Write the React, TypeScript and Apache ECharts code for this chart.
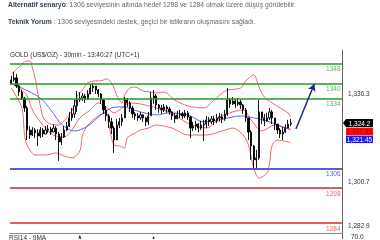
import React, { useEffect, useRef } from "react";
import * as echarts from "echarts";

// ---- data ----
const categoryCount = 126;
const firstOpen = 1340.0;
const closes = [
  1341.6, 1342.4, 1339.1, 1336.7, 1334.3, 1330.3, 1321.4, 1319.4, 1321.4, 1320.2,
  1319.0, 1321.4, 1319.8, 1321.4, 1321.8, 1320.6, 1322.2, 1319.8, 1316.6, 1318.6,
  1321.4, 1323.0, 1326.3, 1327.9, 1331.1, 1333.5, 1334.3, 1335.1, 1333.9, 1335.9,
  1338.3, 1339.1, 1337.5, 1335.9, 1333.5, 1329.5, 1327.1, 1324.7, 1322.2, 1317.4,
  1323.4, 1324.7, 1326.3, 1333.5, 1332.3, 1330.3, 1327.9, 1327.1, 1326.3, 1327.5,
  1326.3, 1324.7, 1327.1, 1334.3, 1335.1, 1331.5, 1330.3, 1329.5, 1330.7, 1329.9,
  1328.7, 1327.1, 1325.9, 1327.5, 1327.9, 1327.1, 1328.3, 1326.7, 1322.2, 1323.0,
  1323.8, 1322.2, 1323.4, 1323.8, 1325.5, 1324.7, 1325.9, 1325.1, 1326.3, 1326.7,
  1325.9, 1327.9, 1333.5, 1331.9, 1333.1, 1331.9, 1332.7, 1331.5, 1329.5, 1326.3,
  1320.6, 1315.0, 1309.4, 1310.2, 1328.7, 1326.3, 1325.1, 1326.3, 1328.7, 1326.3,
  1323.8, 1321.4, 1319.8, 1320.6, 1322.2, 1323.8, 1324.2,
];
const highs = [
  1343.2, 1344.8, 1344.0, 1339.5, 1337.5, 1334.7, 1331.1, 1323.0, 1322.6, 1322.2,
  1321.8, 1322.6, 1322.2, 1323.0, 1323.4, 1322.6, 1323.8, 1323.0, 1320.6, 1320.2,
  1323.0, 1324.7, 1328.7, 1330.3, 1333.5, 1337.1, 1336.7, 1336.3, 1335.9, 1337.5,
  1339.9, 1340.4, 1339.1, 1337.9, 1336.3, 1333.5, 1331.1, 1327.9, 1326.3, 1323.0,
  1325.9, 1326.3, 1327.9, 1334.7, 1334.3, 1333.1, 1331.1, 1328.7, 1328.3, 1328.7,
  1327.9, 1326.7, 1328.7, 1336.7, 1337.5, 1335.9, 1331.9, 1331.5, 1331.9, 1331.5,
  1330.7, 1329.1, 1328.3, 1329.1, 1329.5, 1328.7, 1329.5, 1329.1, 1327.1, 1324.7,
  1325.1, 1324.2, 1325.1, 1325.5, 1327.1, 1326.7, 1327.1, 1327.1, 1327.9, 1328.3,
  1327.9, 1329.5, 1338.3, 1334.3, 1334.7, 1333.9, 1334.3, 1333.5, 1331.9, 1330.3,
  1326.3, 1321.4, 1315.4, 1313.4, 1333.5, 1328.7, 1327.9, 1328.3, 1330.3, 1329.5,
  1326.3, 1323.8, 1322.2, 1322.6, 1323.8, 1325.5, 1325.9,
];
const lows = [
  1339.9, 1340.8, 1338.3, 1335.1, 1333.5, 1328.7, 1317.4, 1317.8, 1319.0, 1318.2,
  1315.0, 1318.2, 1318.6, 1319.8, 1320.2, 1319.4, 1320.6, 1317.4, 1309.0, 1315.4,
  1318.2, 1321.0, 1322.6, 1325.1, 1326.3, 1328.7, 1332.7, 1333.1, 1332.3, 1333.5,
  1335.9, 1336.7, 1335.9, 1334.7, 1331.9, 1327.9, 1325.1, 1322.2, 1319.8, 1312.2,
  1317.4, 1322.2, 1323.0, 1326.3, 1330.7, 1328.7, 1326.3, 1325.5, 1325.1, 1325.5,
  1324.7, 1323.0, 1323.4, 1327.1, 1331.9, 1329.5, 1328.3, 1327.9, 1328.7, 1328.3,
  1327.5, 1325.5, 1324.2, 1325.9, 1326.3, 1325.9, 1326.3, 1325.5, 1318.2, 1321.0,
  1321.4, 1320.6, 1321.4, 1317.0, 1322.2, 1323.0, 1323.8, 1323.4, 1324.2, 1324.7,
  1324.2, 1325.1, 1327.1, 1330.3, 1331.5, 1330.3, 1331.1, 1329.9, 1327.9, 1324.7,
  1317.4, 1309.4, 1306.1, 1305.3, 1309.4, 1323.8, 1323.0, 1324.7, 1325.5, 1323.8,
  1321.4, 1319.8, 1318.2, 1317.4, 1320.2, 1322.2, 1323.0,
];
const bandUpper = [
  [0, 1344.0], [3, 1346.8], [5, 1348.8], [7, 1349.2], [8, 1346.4], [9, 1342.4],
  [10, 1336.7], [11, 1331.1], [12, 1326.7], [13, 1325.1], [15, 1323.8], [18, 1323.4],
  [20, 1325.1], [23, 1329.1], [25, 1335.1], [27, 1337.5], [29, 1340.4], [32, 1341.2],
  [34, 1341.2], [36, 1342.0], [38, 1340.4], [40, 1335.5], [42, 1332.3], [43, 1335.5],
  [45, 1338.3], [47, 1338.7], [50, 1337.1], [53, 1336.7], [55, 1336.3], [58, 1336.7],
  [62, 1333.5], [67, 1331.1], [73, 1330.3], [77, 1333.5], [80, 1336.3], [82, 1337.5],
  [87, 1338.3], [89, 1341.2], [92, 1343.6], [94, 1338.7], [96, 1334.7], [99, 1332.3],
  [102, 1330.3], [105, 1328.3], [106, 1326.7],
];
const bandMiddle = [
  [0, 1339.9], [3, 1338.3], [6, 1335.1], [8, 1329.5], [12, 1323.4], [16, 1319.4],
  [20, 1318.6], [23, 1321.4], [26, 1326.3], [30, 1329.5], [33, 1332.3], [36, 1330.7],
  [39, 1328.3], [41, 1329.5], [45, 1332.3], [49, 1331.9], [55, 1330.3], [60, 1328.7],
  [67, 1324.2], [74, 1322.2], [80, 1327.1], [88, 1329.5], [91, 1325.5], [95, 1321.0],
  [100, 1323.4], [105, 1322.2], [106, 1321.88],
];
const bandLower = [
  [0, 1338.3], [4, 1330.3], [5, 1319.4], [6, 1315.4], [9, 1311.4], [13, 1311.4],
  [17, 1312.2], [20, 1311.0], [23, 1310.2], [26, 1313.0], [27, 1319.4], [29, 1323.4],
  [33, 1327.1], [36, 1328.3], [37, 1323.4], [39, 1315.4], [41, 1315.0], [43, 1314.2],
  [44, 1318.2], [47, 1320.2], [49, 1321.4], [52, 1322.2], [55, 1323.4], [61, 1322.2],
  [67, 1319.4], [74, 1319.4], [80, 1321.0], [84, 1322.2], [88, 1319.4], [90, 1315.4],
  [92, 1306.1], [94, 1302.1], [97, 1304.1], [98, 1308.1], [99, 1315.4], [101, 1317.4],
  [105, 1316.6], [106, 1316.2],
];
const movingAverage = [
  [1, 1339.5], [4, 1338.3], [11, 1334.3], [15, 1329.5], [19, 1323.8], [24, 1321.0],
  [29, 1323.0], [34, 1327.5], [38, 1330.3], [42, 1330.7], [49, 1328.7], [55, 1327.5],
  [60, 1328.3], [67, 1327.5], [73, 1324.7], [79, 1325.5], [87, 1327.1], [92, 1326.3],
  [97, 1325.1], [102, 1323.0], [106, 1321.45],
];
const rsiPoints = [
  [20, 50], [25, 56], [26, 71.3], [27, 56], [35, 48], [48, 52], [53, 55], [54, 69.6], [55, 55], [64, 50],
];
const greenLevels = [1348, 1340, 1334];
const blueLevels = [1306];
const redLevels = [1298, 1284];
const priceTicks = [1282.9, 1300.7, 1336.3];
const rsiTicks = [70];
const arrowFrom = [108, 1321.8];
const arrowTo = [115, 1339.9];
const lastPrice = 1324.2;
const bandTagValue = 1321.88;
const maTagValue = 1321.45;

const FONT = "'Liberation Sans', Arial, sans-serif";
const fmt = (v: number, d: number) =>
  v.toLocaleString("en-US", { minimumFractionDigits: d, maximumFractionDigits: d });

export default function App() {
  const ref = useRef<HTMLDivElement>(null);
  useEffect(() => {
    if (!ref.current) return;
    const chart = echarts.init(ref.current, null, { renderer: "svg" });
    const categories = Array.from({ length: categoryCount }, (_, i) => String(i));
    const candles = closes.map((c, i) => {
      const o = i === 0 ? firstOpen : closes[i - 1];
      return [o, c, Math.min(lows[i], o, c), Math.max(highs[i], o, c)];
    });
    const levelItem = (v: number, line: string, text: string, w: number) => ({
      yAxis: v,
      lineStyle: { color: line, width: w, type: "solid" },
      label: { color: text },
    });
    const bandLine = (name: string, data: number[][], color: string) => ({
      type: "line",
      name,
      data,
      smooth: 0.3,
      showSymbol: false,
      symbol: "none",
      silent: true,
      lineStyle: { color, width: 0.8 },
      z: 3,
    });
    const topText = {
      fontSize: 6.8, fontWeight: "normal", color: "#666", fontFamily: FONT,
      rich: { b: { fontSize: 6.8, fontWeight: "bold", color: "#354052", fontFamily: FONT } },
    };
    const option: any = {
      animation: false,
      title: [
        {
          text: "{b|Alternatif senaryo}: 1306 seviyesinin altında hedef 1298 ve 1284 olmak üzere düşüş görülebilir.",
          left: 8, top: 1, padding: 0, textStyle: topText,
        },
        {
          text: "{b|Teknik Yorum} : 1306 seviyesindeki destek, geçici bir istikrarın oluşmasını sağladı.",
          left: 8, top: 18, padding: 0, textStyle: topText,
        },
        {
          text: "GOLD (US$/OZ) - 30min - 13:40:27 (UTC+1)",
          left: 10, top: 51, padding: 0,
          textStyle: { fontSize: 6.5, fontWeight: "normal", color: "#333", fontFamily: FONT },
        },
        {
          text: "RSI14 - 9MA",
          left: 9, top: 234, padding: 0,
          textStyle: { fontSize: 6.5, fontWeight: "normal", color: "#333", fontFamily: FONT },
        },
      ],
      grid: [
        { left: 10, right: 38, top: 50, bottom: 7 },
        { left: 10, right: 38, top: 233, bottom: 0 },
      ],
      xAxis: [
        {
          type: "category", gridIndex: 0, data: categories, boundaryGap: true,
          axisLine: { show: true, lineStyle: { color: "#888", width: 1 } },
          axisTick: { show: false }, axisLabel: { show: false }, splitLine: { show: false },
        },
        {
          type: "category", gridIndex: 1, data: categories, boundaryGap: true, show: false,
        },
      ],
      yAxis: [
        {
          type: "value", gridIndex: 0, position: "right", min: 1280, max: 1353.6, scale: true,
          axisLine: { show: true, lineStyle: { color: "#666", width: 1 } },
          axisTick: { show: false }, splitLine: { show: false },
          axisLabel: {
            customValues: priceTicks, margin: 6, fontSize: 6.5, color: "#333", fontFamily: FONT,
            formatter: (v: number) => fmt(v, 1),
          },
        },
        {
          type: "value", gridIndex: 1, position: "right", min: 67, max: 75,
          axisLine: { show: true, lineStyle: { color: "#666", width: 1 } },
          axisTick: { show: false }, splitLine: { show: false },
          axisLabel: {
            customValues: rsiTicks, margin: 9, fontSize: 6.5, color: "#333", fontFamily: FONT,
            formatter: (v: number) => fmt(v, 1),
          },
        },
      ],
      series: [
        {
          type: "candlestick",
          data: candles,
          barWidth: 1.7,
          silent: true,
          z: 4,
          itemStyle: {
            color: "#ffffff", color0: "#000000", borderColor: "#000000", borderColor0: "#000000",
            borderWidth: 0.9,
          },
          markLine: {
            silent: true,
            symbol: "none",
            animation: false,
            label: {
              show: true, position: "insideEndBottom", distance: 1.5, fontSize: 6.5,
              fontFamily: FONT, formatter: "{c}", padding: 0,
            },
            data: [
              ...greenLevels.map((v) => levelItem(v, "#239a23", "#5fb05f", 1.5)),
              ...blueLevels.map((v) => levelItem(v, "#5a5ad6", "#5a6ad2", 2)),
              ...redLevels.map((v) => levelItem(v, "#d42a2a", "#e06a6a", 1.5)),
            ],
          },
        },
        bandLine("upper", bandUpper, "#e04848"),
        bandLine("middle", bandMiddle, "#e04848"),
        bandLine("lower", bandLower, "#e04848"),
        {
          ...bandLine("ma", movingAverage, "#3344cc"),
          markLine: {
            silent: true,
            animation: false,
            symbol: ["none", "arrow"],
            symbolSize: [6, 7],
            label: { show: false },
            lineStyle: { color: "#1c2a80", width: 1.5, type: "solid", curveness: 0.12 },
            data: [[{ coord: arrowFrom }, { coord: arrowTo }]],
          },
        },
        {
          type: "line", xAxisIndex: 1, yAxisIndex: 1, data: rsiPoints, showSymbol: false,
          symbol: "none", silent: true, clip: true, lineStyle: { color: "#000", width: 0.8 },
        },
      ],
    };
    chart.setOption(option);
    const y = chart.convertToPixel({ yAxisIndex: 0 }, lastPrice) as number;
    const tx = 346, tw = 27, th = 8;
    const tagText = (text: string, cy: number, fill: string) => ({
      type: "text", x: tx + tw / 2, y: cy, z: 101,
      style: { text, fill, fontSize: 6.5, fontFamily: FONT, align: "center", verticalAlign: "middle" },
    });
    chart.setOption({
      graphic: [
        {
          type: "polygon", z: 100,
          shape: { points: [[343, y], [tx, y - th / 2], [tx + tw, y - th / 2], [tx + tw, y + th / 2], [tx, y + th / 2]] },
          style: { fill: "#000" },
        },
        tagText(fmt(lastPrice, 1), y, "#fff"),
        { type: "rect", z: 100, shape: { x: tx, y: y + 4.5, width: tw, height: 7.5 }, style: { fill: "#ee1111" } },
        tagText(fmt(bandTagValue, 2), y + 8.25, "#b80000"),
        { type: "rect", z: 100, shape: { x: tx, y: y + 12.5, width: tw, height: 7.5 }, style: { fill: "#1a1aee" } },
        tagText(fmt(maTagValue, 2), y + 16.25, "#fff"),
      ],
    });
    return () => chart.dispose();
  }, []);
  return <div ref={ref} style={{ position: "fixed", left: 0, top: 0, width: 380, height: 240 }} />;
}
